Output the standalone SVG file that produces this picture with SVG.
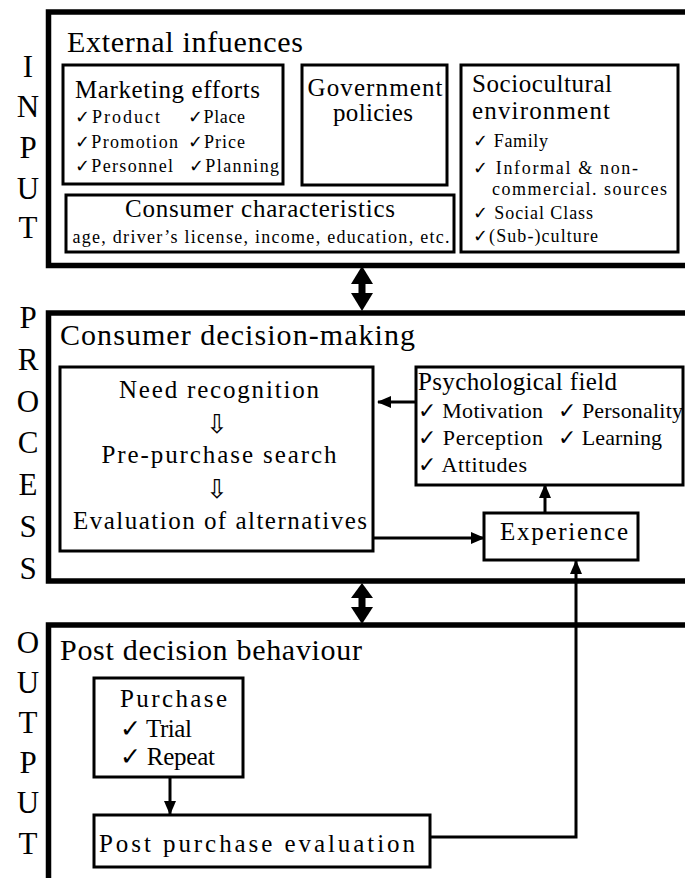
<svg xmlns="http://www.w3.org/2000/svg" width="685" height="878" viewBox="0 0 685 878" font-family="Liberation Serif, Times New Roman, serif">
<style>
.lbl{font-size:31px;text-anchor:middle}
.frame{fill:none;stroke:#000;stroke-width:5.5}
.box{fill:#fff;stroke:#000;stroke-width:3}
.h1{font-size:30px}
.h2{font-size:25px}
.s{font-size:18px}
.m{font-size:22px}
.c{text-anchor:middle}
.ln{fill:none;stroke:#000;stroke-width:3}
.hd{fill:#000}
.arr{font-size:26px;text-anchor:middle}
</style>
<defs>
<marker id="ah" markerUnits="userSpaceOnUse" markerWidth="14" markerHeight="12" refX="13" refY="6" orient="auto">
<path d="M0,0 L14,6 L0,12 Z" fill="#000"/>
</marker>
</defs>
<rect width="685" height="878" fill="#fff"/>

<g id="side-labels">
<text class="lbl" x="28" y="77">I</text>
<text class="lbl" x="28" y="117">N</text>
<text class="lbl" x="28" y="158">P</text>
<text class="lbl" x="28" y="199">U</text>
<text class="lbl" x="28" y="238">T</text>
<text class="lbl" x="28" y="328">P</text>
<text class="lbl" x="28" y="370">R</text>
<text class="lbl" x="28" y="412">O</text>
<text class="lbl" x="28" y="453">C</text>
<text class="lbl" x="28" y="495">E</text>
<text class="lbl" x="28" y="537">S</text>
<text class="lbl" x="28" y="579">S</text>
<text class="lbl" x="28" y="653">O</text>
<text class="lbl" x="28" y="693">U</text>
<text class="lbl" x="28" y="733">T</text>
<text class="lbl" x="28" y="773">P</text>
<text class="lbl" x="28" y="813">U</text>
<text class="lbl" x="28" y="854">T</text>
</g>

<g id="input">
<path class="frame" d="M690,12 H48.5 V265.5 H690"/>
<text class="h1" x="67" y="52" font-size="30" textLength="236">External infuences</text>
</g>

<g id="marketing-efforts">
<rect class="box" x="63" y="65" width="220" height="119"/>
<text class="h2" x="75" y="98" font-size="26" textLength="185">Marketing efforts</text>
<text class="s" x="75" y="123" textLength="85">✓Product</text>
<text class="s" x="188" y="123" textLength="57">✓Place</text>
<text class="s" x="75" y="148" textLength="103">✓Promotion</text>
<text class="s" x="188" y="148" textLength="57">✓Price</text>
<text class="s" x="75" y="172" textLength="98">✓Personnel</text>
<text class="s" x="189" y="172" textLength="90">✓Planning</text>
</g>

<g id="government-policies">
<rect class="box" x="302" y="65" width="145" height="120"/>
<text class="h2 c" x="375" y="96" font-size="25" textLength="135">Government</text>
<text class="h2 c" x="373" y="121" font-size="25" textLength="80">policies</text>
</g>

<g id="sociocultural">
<rect class="box" x="461" y="65" width="217" height="187"/>
<text class="h2" x="472" y="92" font-size="25" textLength="140">Sociocultural</text>
<text class="h2" x="472" y="119" font-size="25" textLength="138">environment</text>
<text class="s" x="473" y="147" font-size="17" textLength="75">✓ Family</text>
<text class="s" x="473" y="174" font-size="17" textLength="165">✓ Informal &amp; non-</text>
<text class="s" x="492" y="195" font-size="17" textLength="175">commercial. sources</text>
<text class="s" x="473" y="219" font-size="17" textLength="120">✓ Social Class</text>
<text class="s" x="473" y="242" font-size="17" textLength="125">✓(Sub-)culture</text>
</g>

<g id="consumer-characteristics">
<rect class="box" x="66" y="195" width="388" height="57"/>
<text class="h2 c" x="260" y="217" font-size="25" textLength="270">Consumer characteristics</text>
<text class="s c" x="261" y="243" textLength="377">age, driver’s license, income, education, etc.</text>
</g>

<g id="process">
<path class="frame" d="M690,313 H48.5 V581 H690"/>
<text class="h1" x="60" y="345" font-size="31" textLength="355">Consumer decision-making</text>
</g>

<g id="decision-steps">
<rect class="box" x="60" y="367" width="313" height="184"/>
<text class="h2 c" x="219" y="398" font-size="28" textLength="200">Need recognition</text>
<text class="arr" x="217" y="433">⇩</text>
<text class="h2 c" x="219" y="463" font-size="28" textLength="235">Pre-purchase search</text>
<text class="arr" x="217" y="498">⇩</text>
<text class="h2 c" x="220" y="529" font-size="28" textLength="294">Evaluation of alternatives</text>
</g>

<g id="psychological-field">
<rect class="box" x="416" y="367" width="267" height="118"/>
<text class="h2" x="418" y="390" font-size="26" textLength="199">Psychological field</text>
<text class="m" x="418" y="418" textLength="125">✓ Motivation</text>
<text class="m" x="558" y="418" textLength="125">✓ Personality</text>
<text class="m" x="418" y="445" textLength="125">✓ Perception</text>
<text class="m" x="558" y="445" textLength="104">✓ Learning</text>
<text class="m" x="418" y="472" textLength="109">✓ Attitudes</text>
</g>

<g id="experience">
<rect class="box" x="484" y="513" width="154" height="47"/>
<text class="h2" x="500" y="540" font-size="27" textLength="128">Experience</text>
</g>

<g id="output">
<path class="frame" d="M690,625 H48.5 V885"/>
<text class="h1" x="60" y="660" font-size="31" textLength="302">Post decision behaviour</text>
</g>

<g id="purchase">
<rect class="box" x="94" y="678" width="149" height="99"/>
<text class="h2" x="120" y="707" font-size="27" textLength="107">Purchase</text>
<text class="h2" x="120" y="737" font-size="24" textLength="72">✓ Trial</text>
<text class="h2" x="120" y="765" font-size="24" textLength="95">✓ Repeat</text>
</g>

<g id="post-purchase-evaluation">
<rect class="box" x="94" y="815" width="336" height="52"/>
<text class="h2" x="99" y="852" font-size="30" textLength="316">Post purchase evaluation</text>
</g>

<g id="connectors">
<polygon class="hd" points="362,266 373,284 351,284"/>
<rect class="hd" x="358.5" y="283" width="7" height="11"/>
<polygon class="hd" points="351,293 373,293 362,311"/>
<polygon class="hd" points="362,583 373,598 351,598"/>
<rect class="hd" x="358.5" y="597" width="7" height="11"/>
<polygon class="hd" points="351,607 373,607 362,624"/>
<line class="ln" x1="416" y1="402" x2="378" y2="402" marker-end="url(#ah)"/>
<line class="ln" x1="373" y1="538" x2="484" y2="538" marker-end="url(#ah)"/>
<line class="ln" x1="545" y1="513" x2="545" y2="485" marker-end="url(#ah)"/>
<polyline class="ln" points="430,837 576,837 576,561" marker-end="url(#ah)"/>
<line class="ln" x1="170" y1="777" x2="170" y2="814" marker-end="url(#ah)"/>
</g>
</svg>
